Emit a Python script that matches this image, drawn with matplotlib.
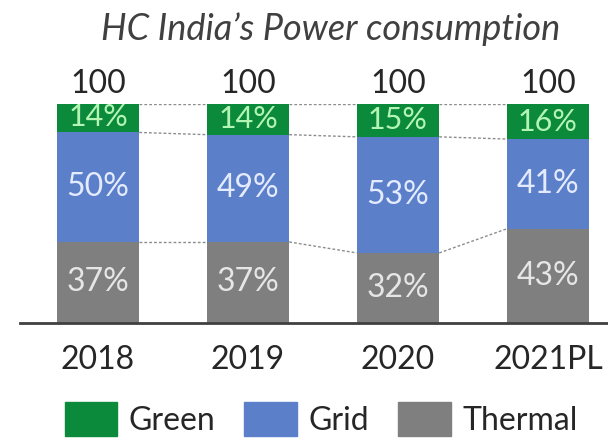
import matplotlib.pyplot as plt
from matplotlib.patches import Patch
import numpy as np

years = ['2018', '2019', '2020', '2021PL']
totals = [100, 100, 100, 100]
thermal = [37, 37, 32, 43]
grid = [50, 49, 53, 41]
green = [14, 14, 15, 16]

c_green = '#0b8a3c'
c_grid = '#5b7fc9'
c_thermal = '#7f7f7f'
txt = '#404040'

plt.rcParams['font.family'] = ['Lato', 'DejaVu Sans']

fig = plt.figure(figsize=(6.08, 4.41), dpi=100)
ax = fig.add_axes([20 / 608, 118 / 441, 588 / 608, 219 / 441])

x = np.arange(len(years))
w = 0.55
thermal = np.array(thermal)
grid = np.array(grid)
green = np.array(green)

ax.bar(x, thermal, w, color=c_thermal, zorder=2)
ax.bar(x, grid, w, bottom=thermal, color=c_grid, zorder=2)
ax.bar(x, green, w, bottom=thermal + grid, color=c_green, zorder=2)

# dotted connectors between segment boundaries
levels = [thermal, thermal + grid, np.array(totals)]
for lv in levels:
    for i in range(len(x) - 1):
        ax.plot([x[i] + w / 2, x[i + 1] - w / 2], [lv[i], lv[i + 1]],
                color='#8c8c8c', lw=1, ls=(0, (2, 1.5)), zorder=1)

fs = 23
# segment labels
for i in range(len(x)):
    ax.text(x[i], thermal[i] / 2, f'{thermal[i]}%', ha='center', va='center',
            color='#e6e6e6', fontsize=fs, zorder=3)
    ax.text(x[i], thermal[i] + grid[i] / 2, f'{grid[i]}%', ha='center', va='center',
            color='#e4ebff', fontsize=fs, zorder=3)
    ax.text(x[i], thermal[i] + grid[i] + green[i] / 2, f'{green[i]}%', ha='center',
            va='center', color='#b4f5b4', fontsize=fs - 1, zorder=3)
    ax.annotate(str(totals[i]), (x[i], totals[i]), xytext=(0, 8),
                textcoords='offset points', ha='center', va='baseline',
                color='#262626', fontsize=fs)

ax.set_xlim(-0.52, 3.4)
ax.set_ylim(0, 100)
ax.set_xticks(x)
ax.set_xticklabels(years, fontsize=fs, color='#262626')
ax.tick_params(axis='x', length=0, pad=16)
ax.set_yticks([])
for s in ['top', 'right', 'left']:
    ax.spines[s].set_visible(False)
ax.spines['bottom'].set_color(txt)
ax.spines['bottom'].set_linewidth(2)

fig.text(0.543, 1 - 40 / 441, 'HC India\u2019s Power consumption', ha='center',
         va='baseline', fontsize=26, style='italic', color=txt)

handles = [Patch(color=c_green, label='Green'),
           Patch(color=c_grid, label='Grid'),
           Patch(color=c_thermal, label='Thermal')]
fig.legend(handles=handles, loc='center', bbox_to_anchor=(0.528, 1 - 419 / 441),
           ncol=3, frameon=False, fontsize=fs, handlelength=1.65, handleheight=1.3,
           handletextpad=0.36, columnspacing=0.9, labelcolor='#262626',
           borderpad=0, borderaxespad=0)

fig.savefig('out.png', dpi=100)
